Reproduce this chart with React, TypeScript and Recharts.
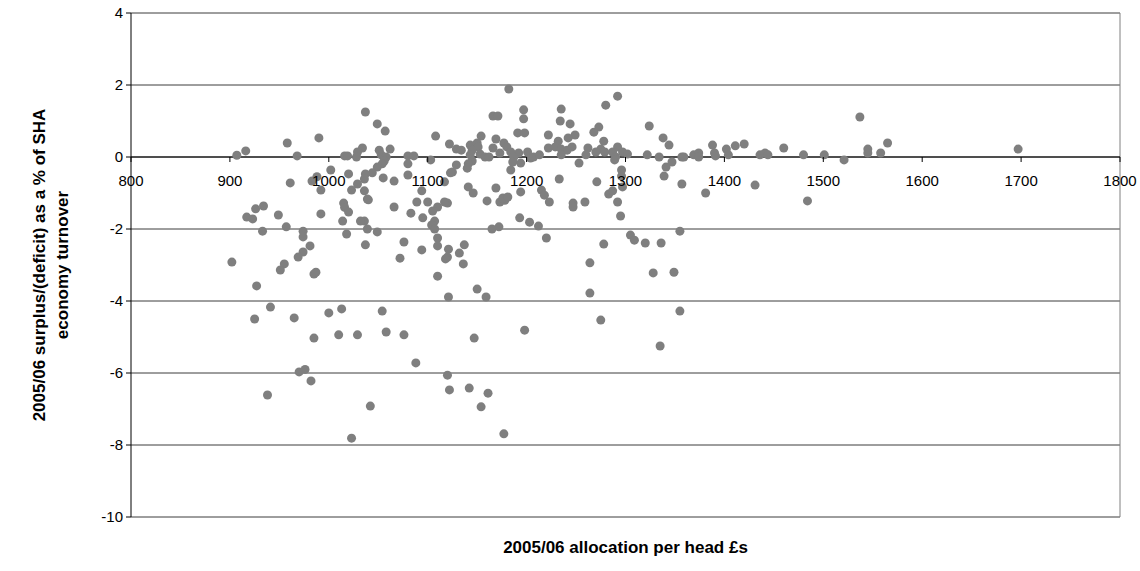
import React from 'react';
import { ScatterChart, Scatter, XAxis, YAxis, CartesianGrid, ReferenceLine } from 'recharts';

// [allocation per head £, surplus/(deficit) %] grouped by allocation band
const band900: [number, number][] = [
  [907, 0.05], [916, 0.17], [958, 0.39], [968, 0.03], [990, 0.53], [961, -0.72], [983, -0.67],
  [988, -0.55], [992, -0.92], [934, -1.36], [926, -1.44], [917, -1.67], [923, -1.72], [949, -1.61],
  [992, -1.58], [933, -2.06], [957, -1.94], [974, -2.06], [974, -2.22], [981, -2.47], [974, -2.64],
  [969, -2.78], [902, -2.92], [955, -2.97], [951, -3.14], [985, -3.25], [987, -3.2], [927, -3.58],
  [941, -4.17], [925, -4.5], [965, -4.47], [985, -5.03], [970, -5.97], [976, -5.9], [982, -6.22],
  [938, -6.61],
];

const band1000: [number, number][] = [
  [1000, -4.33], [1010, -4.94], [1029, -4.94], [1058, -4.86], [1076, -4.94], [1088, -5.72],
  [1042, -6.92], [1023, -7.81], [1015, -1.28], [1016, -1.4], [1020, -1.53], [1040, -1.19],
  [1066, -1.39], [1089, -1.25], [1083, -1.56], [1095, -1.69], [1014, -1.78], [1036, -1.78],
  [1032, -1.78], [1039, -2.0], [1049, -2.08], [1018, -2.14], [1076, -2.36], [1037, -2.44],
  [1094, -2.58], [1072, -2.81], [1013, -4.22], [1054, -4.28], [1037, 1.25], [1049, 0.92],
  [1057, 0.72], [1034, 0.25], [1029, 0.14], [1028, 0], [1016, 0.03], [1019, 0.03], [1051, 0.19],
  [1062, 0.22], [1053, 0.06], [1058, 0], [1056, -0.11], [1054, -0.19], [1049, -0.28], [1044, -0.44],
  [1080, 0.03], [1086, 0.03], [1080, -0.19], [1080, -0.5], [1002, -0.36], [1020, -0.47],
  [1037, -0.47], [1036, -0.61], [1055, -0.58], [1066, -0.67], [1029, -0.75], [1023, -0.92],
  [1036, -0.94], [1094, -0.94], [1039, -1.17],
];

const band1100: [number, number][] = [
  [1100, -1.25], [1110, -1.39], [1105, -1.5], [1107, -1.78], [1104, -1.89], [1107, -2.0],
  [1110, -2.25], [1110, -2.47], [1110, -3.31], [1108, 0.58], [1103, -0.08], [1147, -5.03],
  [1120, -6.06], [1122, -6.47], [1142, -6.42], [1161, -6.56], [1154, -6.94], [1177, -7.69],
  [1120, -1.28], [1160, -1.22], [1173, -1.25], [1178, -1.2], [1165, -2.0], [1172, -1.94],
  [1193, -1.69], [1137, -2.44], [1121, -2.56], [1132, -2.67], [1120, -2.78], [1118, -2.83],
  [1136, -2.97], [1150, -3.67], [1121, -3.89], [1159, -3.89], [1182, 1.89], [1166, 1.14],
  [1171, 1.14], [1154, 0.58], [1169, 0.5], [1191, 0.67], [1198, 0.67], [1197, 1.31], [1197, 1.06],
  [1122, 0.36], [1129, 0.22], [1134, 0.19], [1143, 0.33], [1150, 0.39], [1151, 0.28], [1145, 0.19],
  [1166, 0.25], [1177, 0.39], [1180, 0.28], [1184, 0.14], [1192, 0.11], [1143, 0.06], [1153, 0.08],
  [1158, 0], [1162, 0], [1173, 0.11], [1187, 0], [1145, -0.11], [1141, -0.19], [1140, -0.31],
  [1129, -0.22], [1125, -0.42], [1123, -0.44], [1117, -0.69], [1186, -0.14], [1194, -0.17],
  [1184, -0.36], [1141, -0.83], [1146, -1.0], [1169, -0.86], [1176, -1.14], [1181, -1.11],
  [1194, -0.97], [1117, -1.25], [1198, -4.81],
];

const band1200: [number, number][] = [
  [1201, 0.14], [1222, 0.25], [1222, 0.61], [1204, -0.03], [1207, 0], [1213, 0.06], [1215, -0.92],
  [1218, -1.06], [1203, -1.81], [1212, -1.92], [1220, -2.25], [1223, -1.25], [1247, -1.28],
  [1247, -1.39], [1259, -1.25], [1292, -1.25], [1295, -1.64], [1278, -2.42], [1264, -2.94],
  [1264, -3.78], [1275, -4.53], [1292, 1.69], [1280, 1.44], [1235, 1.33], [1234, 1.0], [1244, 0.92],
  [1273, 0.83], [1268, 0.69], [1249, 0.61], [1242, 0.53], [1232, 0.44], [1278, 0.44], [1229, 0.28],
  [1235, 0.22], [1246, 0.28], [1241, 0.19], [1262, 0.25], [1275, 0.22], [1292, 0.28], [1270, 0.14],
  [1279, 0.14], [1287, 0.14], [1297, 0.14], [1235, 0.06], [1260, 0.06], [1290, 0], [1253, -0.17],
  [1289, -0.08], [1296, -0.36], [1296, -0.53], [1297, -0.83], [1233, -0.61], [1271, -0.69],
  [1283, -1.03], [1287, -0.94],
];

const band1300: [number, number][] = [
  [1302, 0.08], [1322, 0.06], [1324, 0.86], [1305, -2.17], [1309, -2.31], [1320, -2.39],
  [1336, -2.39], [1328, -3.22], [1335, -5.25], [1338, 0.53], [1344, 0.33], [1334, 0], [1347, -0.14],
  [1341, -0.28], [1339, -0.53], [1357, 0], [1359, 0], [1357, -0.75], [1369, 0.06], [1374, 0.11],
  [1374, 0], [1388, 0.33], [1390, 0.11], [1391, 0.03], [1381, -1.0], [1355, -2.06], [1349, -3.2],
  [1355, -4.28],
];

const band1400Plus: [number, number][] = [
  [1402, 0.22], [1404, 0.06], [1411, 0.31], [1420, 0.36], [1431, -0.78], [1436, 0.06], [1441, 0.11],
  [1444, 0.06], [1460, 0.25], [1480, 0.06], [1484, -1.22], [1501, 0.06], [1521, -0.08], [1537, 1.11],
  [1545, 0.22], [1545, 0.11], [1558, 0.11], [1565, 0.39], [1697, 0.22],
];

const xTicks = [800, 900, 1000, 1100, 1200, 1300, 1400, 1500, 1600, 1700, 1800];
const yTicks = [-10, -8, -6, -4, -2, 0, 2, 4];

const points = [...band900, ...band1000, ...band1100, ...band1200, ...band1300, ...band1400Plus].map(
  ([x, y]) => ({ x, y })
);

const W = 1140;
const H = 571;
const PLOT_TOP = 13;
const PLOT_BOTTOM = 517;
const Y_MIN = -10;
const Y_MAX = 4;
// x axis crosses at y = 0
const ZERO_Y = PLOT_TOP + ((PLOT_BOTTOM - PLOT_TOP) * Y_MAX) / (Y_MAX - Y_MIN);

const FONT = 'Arial, "Liberation Sans", sans-serif';

const XTick = (props: any) => {
  const { x, payload } = props;
  return (
    <g>
      <line x1={x} x2={x} y1={ZERO_Y} y2={ZERO_Y + 5} stroke="#000" />
      <text x={x} y={ZERO_Y + 29} textAnchor="middle" fontSize={15} fontFamily={FONT} fill="#000">
        {payload.value}
      </text>
    </g>
  );
};

const Dot = (props: any) => <circle cx={props.cx} cy={props.cy} r={4.5} fill="#7f7f7f" />;

export default function App() {
  return (
    <div style={{ position: 'absolute', left: 0, top: 0, width: W, height: H, background: '#fff' }}>
      <ScatterChart width={W} height={H} margin={{ top: PLOT_TOP, right: 20, bottom: 0, left: 0 }}>
        <CartesianGrid vertical={false} stroke="#3c3c3c" />
        <XAxis
          type="number"
          dataKey="x"
          domain={[800, 1800]}
          ticks={xTicks}
          axisLine={false}
          tickLine={false}
          tick={<XTick />}
          height={H - PLOT_BOTTOM}
          interval={0}
        />
        <YAxis
          type="number"
          dataKey="y"
          domain={[Y_MIN, Y_MAX]}
          ticks={yTicks}
          width={131}
          axisLine={{ stroke: '#000' }}
          tickLine={{ stroke: '#000' }}
          tickSize={5}
          tickMargin={3}
          interval={0}
          tick={{ fill: '#000', fontSize: 15, fontFamily: FONT }}
        />
        <ReferenceLine x={1800} stroke="#808080" />
        <ReferenceLine y={0} stroke="#000" />
        <Scatter data={points} shape={<Dot />} isAnimationActive={false} />
      </ScatterChart>
      <div
        style={{
          position: 'absolute',
          left: 131,
          width: 989,
          top: 538,
          textAlign: 'center',
          fontFamily: FONT,
          fontWeight: 'bold',
          fontSize: 17,
        }}
      >
        2005/06 allocation per head £s
      </div>
      <div
        style={{
          position: 'absolute',
          left: 51,
          top: 265,
          width: 500,
          transform: 'translate(-50%, -50%) rotate(-90deg)',
          textAlign: 'center',
          fontFamily: FONT,
          fontWeight: 'bold',
          fontSize: 17,
          lineHeight: '23px',
        }}
      >
        2005/06 surplus/(deficit) as a % of SHA
        <br />
        economy turnover
      </div>
    </div>
  );
}
